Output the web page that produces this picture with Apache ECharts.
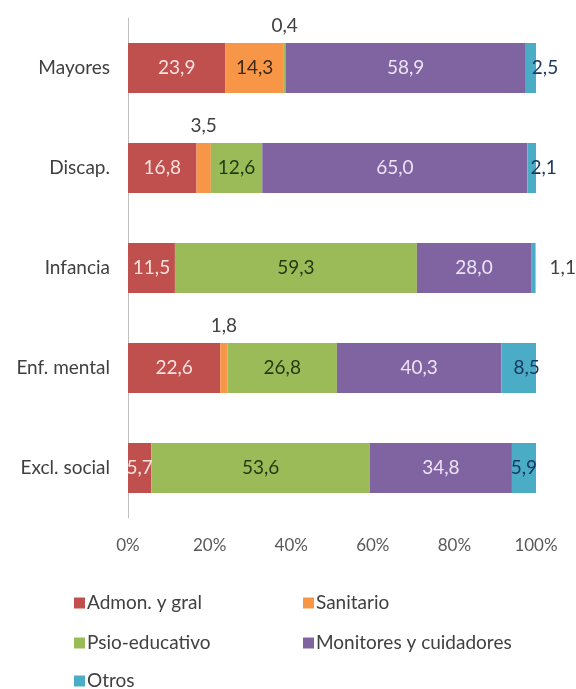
<!DOCTYPE html>
<html>
<head>
<meta charset="utf-8">
<script src="https://cdn.jsdelivr.net/npm/echarts@6/dist/echarts.min.js"></script>
<style>
  html, body { margin: 0; padding: 0; background: #ffffff; }
  #chart { width: 576px; height: 689px; }
</style>
</head>
<body>
<div id="chart"></div>
<script>
// Staff distribution (%) by type of centre, 100% stacked
const categories = ['Mayores', 'Discap.', 'Infancia', 'Enf. mental', 'Excl. social'];
const seriesNames = ['Admon. y gral', 'Sanitario', 'Psio-educativo', 'Monitores y cuidadores', 'Otros'];

const admon     = [23.9, 16.8, 11.5, 22.6, 5.7];
const sanitario = [14.3, 3.5, 0, 1.8, 0];
const psio      = [0.4, 12.6, 59.3, 26.8, 53.6];
const monitores = [58.9, 65.0, 28.0, 40.3, 34.8];
const otros     = [2.5, 2.1, 1.1, 8.5, 5.9];

const xTicks = [0, 20, 40, 60, 80, 100];

const FONT = 'Lato, "Open Sans", sans-serif';
const colors = ['#c0504d', '#f79646', '#9bbb59', '#8064a2', '#4bacc6'];
const insideText = ['#fbe1e0', '#3b2a14', '#1f3a10', '#ece4f5', '#17375e'];

// Labels that sit outside (or spill over) their slim segment
const aboveLabel = { position: 'top', distance: 8, color: '#404040' };
const labelOverrides = {
  'Psio-educativo|Mayores': aboveLabel,
  'Sanitario|Discap.': aboveLabel,
  'Sanitario|Enf. mental': aboveLabel,
  'Otros|Infancia': { position: 'right', distance: 14, color: '#404040' },
  'Otros|Mayores': { position: 'insideLeft', distance: 6, color: '#17375e' },
  'Otros|Discap.': { position: 'insideLeft', distance: 3, color: '#17375e' },
  'Otros|Enf. mental': { position: 'inside', offset: [8, 0] }
};

const fmt = v => v.toFixed(1).replace('.', ',');

function buildSeries(name, values, idx) {
  return {
    name: name,
    type: 'bar',
    stack: 'total',
    barWidth: 50,
    itemStyle: { color: colors[idx] },
    label: {
      show: true,
      position: 'inside',
      color: insideText[idx],
      fontFamily: FONT,
      fontSize: 19,
      formatter: p => (p.value > 0 ? fmt(p.value) : '')
    },
    data: values.map((v, i) => {
      const o = labelOverrides[name + '|' + categories[i]];
      return o ? { value: v, label: Object.assign({}, o) } : { value: v };
    })
  };
}

const allValues = [admon, sanitario, psio, monitores, otros];

// Legend laid out in two columns, one component per entry
const legendSlots = [
  { left: 69, top: 587 },   // Admon. y gral
  { left: 298, top: 587 },  // Sanitario
  { left: 69, top: 627 },   // Psio-educativo
  { left: 298, top: 627 },  // Monitores y cuidadores
  { left: 69, top: 665 }    // Otros
];
const legends = seriesNames.map((n, i) => ({
  left: legendSlots[i].left,
  top: legendSlots[i].top,
  itemWidth: 11, itemHeight: 11,
  icon: 'rect',
  data: [n],
  textStyle: { color: '#404040', fontSize: 19, lineHeight: 22, padding: [0, 0, 0, -3] }
}));

const chart = echarts.init(document.getElementById('chart'), null, { renderer: 'canvas' });
chart.setOption({
  animation: false,
  backgroundColor: '#ffffff',
  textStyle: { fontFamily: FONT },
  grid: { left: 128, right: 40, top: 18, bottom: 171, containLabel: false },
  xAxis: {
    type: 'value',
    min: xTicks[0],
    max: xTicks[xTicks.length - 1],
    interval: xTicks[1] - xTicks[0],
    axisLine: { show: false },
    axisTick: { show: false },
    splitLine: { show: false },
    axisLabel: { color: '#595959', fontSize: 17, margin: 19, formatter: '{value}%' }
  },
  yAxis: {
    type: 'category',
    inverse: true,
    data: categories,
    axisLine: { show: true, lineStyle: { color: '#bfbfbf', width: 1 } },
    axisTick: { show: false },
    axisLabel: { color: '#404040', fontSize: 19, margin: 18 }
  },
  legend: legends,
  series: seriesNames.map((n, i) => buildSeries(n, allValues[i], i))
});
</script>
</body>
</html>
